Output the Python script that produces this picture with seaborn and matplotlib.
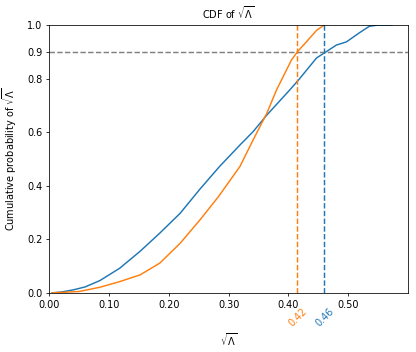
import matplotlib
matplotlib.use("Agg")
import matplotlib.pyplot as plt
import matplotlib.transforms as mtransforms
import seaborn as sns
import pandas as pd

blue_x = [0.005, 0.02, 0.04, 0.06, 0.085, 0.118, 0.152, 0.185, 0.219, 0.252, 0.285,
          0.319, 0.341, 0.364, 0.402, 0.417, 0.447, 0.463, 0.48, 0.497, 0.518, 0.535,
          0.55, 0.573]
blue_y = [0.0, 0.003, 0.011, 0.022, 0.046, 0.092, 0.155, 0.223, 0.297, 0.387, 0.472,
          0.552, 0.602, 0.664, 0.757, 0.795, 0.877, 0.90, 0.925, 0.937, 0.97, 0.995,
          1.0, 1.0]
orange_x = [0.005, 0.05, 0.085, 0.118, 0.152, 0.185, 0.219, 0.252, 0.283, 0.319, 0.341,
            0.364, 0.380, 0.405, 0.415, 0.43, 0.447, 0.46]
orange_y = [0.0, 0.005, 0.021, 0.042, 0.067, 0.111, 0.185, 0.272, 0.359, 0.472, 0.571,
            0.671, 0.757, 0.869, 0.90, 0.937, 0.98, 1.0]

q90_blue = 0.46
q90_orange = 0.415
q90_labels = ["0.46", "0.42"]
x_ticks = [0.0, 0.1, 0.2, 0.3, 0.4, 0.5]
y_ticks = [0.0, 0.2, 0.4, 0.6, 0.8, 0.9, 1.0]

c0, c1 = "#1f77b4", "#ff7f0e"
S = 0.7  # scale factor of the reference rendering
FS = 10 * S

plt.rcParams.update({
    "axes.linewidth": 0.8 * S,
    "xtick.major.width": 0.8 * S, "ytick.major.width": 0.8 * S,
    "xtick.major.size": 3.5 * S, "ytick.major.size": 3.5 * S,
    "xtick.major.pad": 3.5 * S, "ytick.major.pad": 3.5 * S,
})

fig = plt.figure(figsize=(4.16, 3.52), dpi=100)
ax = fig.add_axes([0.118, 0.168, 0.863, 0.761])

df_b = pd.DataFrame({"x": blue_x, "y": blue_y})
df_o = pd.DataFrame({"x": orange_x, "y": orange_y})
sns.lineplot(data=df_b, x="x", y="y", ax=ax, color=c0, lw=1.5 * S, sort=False)
sns.lineplot(data=df_o, x="x", y="y", ax=ax, color=c1, lw=1.5 * S, sort=False)

ax.axhline(0.9, color="gray", ls="--", lw=1.5 * S)
ax.axvline(q90_orange, color=c1, ls="--", lw=1.5 * S)
ax.axvline(q90_blue, color=c0, ls="--", lw=1.5 * S)

trans = mtransforms.blended_transform_factory(ax.transData, ax.transAxes)
ax.text(q90_orange, -0.093, q90_labels[1], color=c1, rotation=45, ha="center", va="center",
        transform=trans, fontsize=FS, rotation_mode="anchor")
ax.text(q90_blue, -0.093, q90_labels[0], color=c0, rotation=45, ha="center", va="center",
        transform=trans, fontsize=FS, rotation_mode="anchor")

ax.set_xlim(0, 0.6)
ax.set_ylim(0, 1.0)
ax.set_xticks(x_ticks)
ax.set_xticklabels([f"{t:.2f}" for t in x_ticks], fontsize=FS)
ax.set_yticks(y_ticks)
ax.set_yticklabels([f"{t:.1f}" for t in y_ticks], fontsize=FS)
ax.set_title(r"CDF of $\sqrt{\Lambda}$", fontsize=FS, pad=6 * S)
ax.set_xlabel(r"$\sqrt{\Lambda}$", fontsize=FS)
ax.set_ylabel(r"Cumulative probability of $\sqrt{\Lambda}$", fontsize=FS)
ax.xaxis.set_label_coords(0.5, -0.145)
ax.yaxis.set_label_coords(-0.083, 0.5)

fig.savefig("out.png", dpi=100)
